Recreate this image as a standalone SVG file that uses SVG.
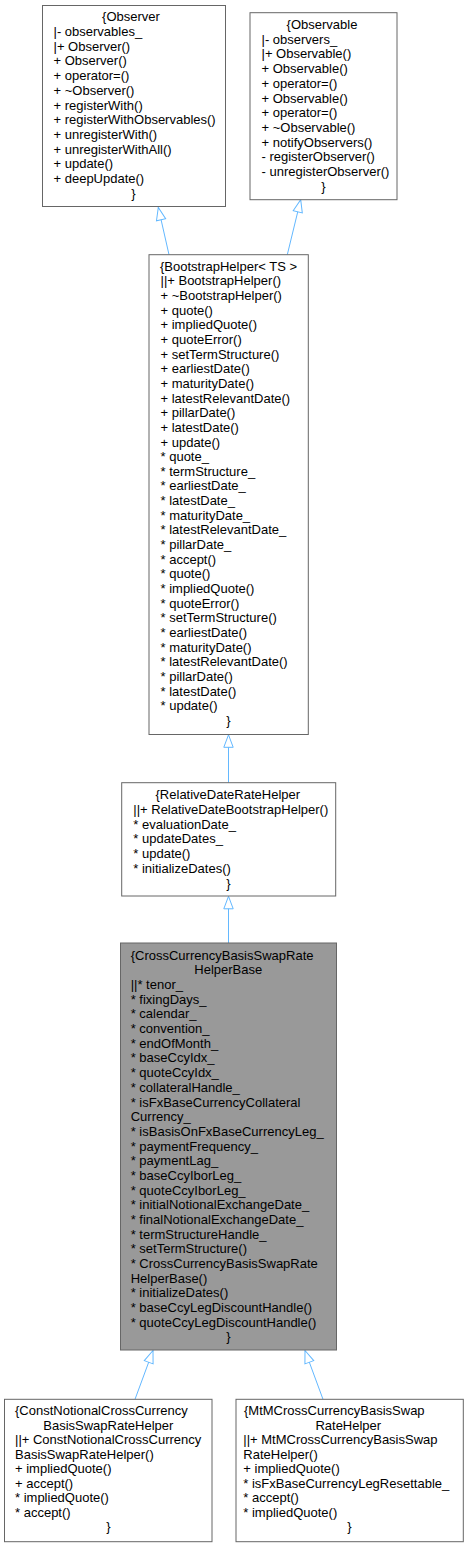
<svg xmlns="http://www.w3.org/2000/svg" width="469" height="1547" viewBox="0 0 469 1547">
<style>
  .box { fill: #ffffff; stroke: #666666; stroke-width: 1; }
  .grey { fill: #999999; stroke: #666666; stroke-width: 1; }
  text { font-family: "Liberation Sans", Arial, sans-serif; font-size: 13px; fill: #000000; }
  .c { text-anchor: middle; }
  .edge { fill: none; stroke: #63b8ff; stroke-width: 1; marker-end: url(#inh); }
</style>
<defs>
  <marker id="inh" markerUnits="userSpaceOnUse" viewBox="0 0 13 10" refX="12.5" refY="5" markerWidth="13" markerHeight="10" orient="auto" overflow="visible">
    <path d="M0,0.3 L12.5,5 L0,9.7 Z" fill="#ffffff" stroke="#63b8ff" stroke-width="1"/>
  </marker>
</defs>
<rect width="469" height="1547" fill="#ffffff"/>

<g id="connectors">
  <path class="edge" d="M169,254.7 L158.3,207.5"/>
  <path class="edge" d="M287.3,254.7 L300.7,199.7"/>
  <path class="edge" d="M228.5,782.7 L228.5,734.8"/>
  <path class="edge" d="M228.5,943 L228.5,896.3"/>
  <path class="edge" d="M135,1399.3 L153,1350.5"/>
  <path class="edge" d="M323,1399.3 L305,1350.5"/>
</g>

<g id="Observer">
  <rect class="box" x="42.5" y="5.5" width="183" height="201"/>
  <text class="c" x="131" y="21.3">{Observer</text>
  <text x="53.5" y="36">|- observables_</text>
  <text x="53.5" y="50.7">|+ Observer()</text>
  <text x="53.5" y="65.4">+ Observer()</text>
  <text x="53.5" y="80.1">+ operator=()</text>
  <text x="53.5" y="94.8">+ ~Observer()</text>
  <text x="53.5" y="109.5">+ registerWith()</text>
  <text x="53.5" y="124.2">+ registerWithObservables()</text>
  <text x="53.5" y="138.9">+ unregisterWith()</text>
  <text x="53.5" y="153.6">+ unregisterWithAll()</text>
  <text x="53.5" y="168.3">+ update()</text>
  <text x="53.5" y="183">+ deepUpdate()</text>
  <text class="c" x="133.3" y="197.7">}</text>
</g>

<g id="Observable">
  <rect class="box" x="250" y="12.7" width="147" height="187"/>
  <text class="c" x="322" y="29">{Observable</text>
  <text x="261.5" y="43.7">|- observers_</text>
  <text x="261.5" y="58.4">|+ Observable()</text>
  <text x="261.5" y="73.1">+ Observable()</text>
  <text x="261.5" y="87.8">+ operator=()</text>
  <text x="261.5" y="102.5">+ Observable()</text>
  <text x="261.5" y="117.2">+ operator=()</text>
  <text x="261.5" y="131.9">+ ~Observable()</text>
  <text x="261.5" y="146.6">+ notifyObservers()</text>
  <text x="261.5" y="161.3">- registerObserver()</text>
  <text x="261.5" y="176">- unregisterObserver()</text>
  <text class="c" x="323.3" y="190.7">}</text>
</g>

<g id="BootstrapHelper">
  <rect class="box" x="149" y="254.7" width="159.3" height="479.8"/>
  <text x="160" y="270.7">{BootstrapHelper&lt; TS &gt;</text>
  <text x="160.5" y="285.35">||+ BootstrapHelper()</text>
  <text x="160.5" y="300">+ ~BootstrapHelper()</text>
  <text x="160.5" y="314.65">+ quote()</text>
  <text x="160.5" y="329.3">+ impliedQuote()</text>
  <text x="160.5" y="343.95">+ quoteError()</text>
  <text x="160.5" y="358.6">+ setTermStructure()</text>
  <text x="160.5" y="373.25">+ earliestDate()</text>
  <text x="160.5" y="387.9">+ maturityDate()</text>
  <text x="160.5" y="402.55">+ latestRelevantDate()</text>
  <text x="160.5" y="417.2">+ pillarDate()</text>
  <text x="160.5" y="431.85">+ latestDate()</text>
  <text x="160.5" y="446.5">+ update()</text>
  <text x="160.5" y="461.15">* quote_</text>
  <text x="160.5" y="475.8">* termStructure_</text>
  <text x="160.5" y="490.45">* earliestDate_</text>
  <text x="160.5" y="505.1">* latestDate_</text>
  <text x="160.5" y="519.75">* maturityDate_</text>
  <text x="160.5" y="534.4">* latestRelevantDate_</text>
  <text x="160.5" y="549.05">* pillarDate_</text>
  <text x="160.5" y="563.7">* accept()</text>
  <text x="160.5" y="578.35">* quote()</text>
  <text x="160.5" y="593">* impliedQuote()</text>
  <text x="160.5" y="607.65">* quoteError()</text>
  <text x="160.5" y="622.3">* setTermStructure()</text>
  <text x="160.5" y="636.95">* earliestDate()</text>
  <text x="160.5" y="651.6">* maturityDate()</text>
  <text x="160.5" y="666.25">* latestRelevantDate()</text>
  <text x="160.5" y="680.9">* pillarDate()</text>
  <text x="160.5" y="695.55">* latestDate()</text>
  <text x="160.5" y="710.2">* update()</text>
  <text class="c" x="228.3" y="724.85">}</text>
</g>

<g id="RelativeDateRateHelper">
  <rect class="box" x="121.7" y="782.7" width="214" height="113.3"/>
  <text class="c" x="227.8" y="799">{RelativeDateRateHelper</text>
  <text x="133.3" y="813.8">||+ RelativeDateBootstrapHelper()</text>
  <text x="133.3" y="828.6">* evaluationDate_</text>
  <text x="133.3" y="843.4">* updateDates_</text>
  <text x="133.3" y="858.2">* update()</text>
  <text x="133.3" y="873">* initializeDates()</text>
  <text class="c" x="228.3" y="887.8">}</text>
</g>

<g id="CrossCurrencyBasisSwapRateHelperBase">
  <rect class="grey" x="120.5" y="943" width="216" height="407"/>
  <text x="130.7" y="959.7">{CrossCurrencyBasisSwapRate</text>
  <text class="c" x="228.3" y="974.38">HelperBase</text>
  <text x="130.7" y="989.06">||* tenor_</text>
  <text x="130.7" y="1003.74">* fixingDays_</text>
  <text x="130.7" y="1018.42">* calendar_</text>
  <text x="130.7" y="1033.1">* convention_</text>
  <text x="130.7" y="1047.78">* endOfMonth_</text>
  <text x="130.7" y="1062.46">* baseCcyIdx_</text>
  <text x="130.7" y="1077.14">* quoteCcyIdx_</text>
  <text x="130.7" y="1091.82">* collateralHandle_</text>
  <text x="130.7" y="1106.5">* isFxBaseCurrencyCollateral</text>
  <text x="130.7" y="1121.18">Currency_</text>
  <text x="130.7" y="1135.86">* isBasisOnFxBaseCurrencyLeg_</text>
  <text x="130.7" y="1150.54">* paymentFrequency_</text>
  <text x="130.7" y="1165.22">* paymentLag_</text>
  <text x="130.7" y="1179.9">* baseCcyIborLeg_</text>
  <text x="130.7" y="1194.58">* quoteCcyIborLeg_</text>
  <text x="130.7" y="1209.26">* initialNotionalExchangeDate_</text>
  <text x="130.7" y="1223.94">* finalNotionalExchangeDate_</text>
  <text x="130.7" y="1238.62">* termStructureHandle_</text>
  <text x="130.7" y="1253.3">* setTermStructure()</text>
  <text x="130.7" y="1267.98">* CrossCurrencyBasisSwapRate</text>
  <text x="130.7" y="1282.66">HelperBase()</text>
  <text x="130.7" y="1297.34">* initializeDates()</text>
  <text x="130.7" y="1312.02">* baseCcyLegDiscountHandle()</text>
  <text x="130.7" y="1326.7">* quoteCcyLegDiscountHandle()</text>
  <text class="c" x="228.3" y="1341.38">}</text>
</g>

<g id="ConstNotionalCrossCurrencyBasisSwapRateHelper">
  <rect class="box" x="4.5" y="1399.3" width="207.5" height="142.4"/>
  <text x="15" y="1415.4">{ConstNotionalCrossCurrency</text>
  <text class="c" x="108.3" y="1429.9">BasisSwapRateHelper</text>
  <text x="15" y="1444.4">||+ ConstNotionalCrossCurrency</text>
  <text x="15" y="1458.9">BasisSwapRateHelper()</text>
  <text x="15" y="1473.4">+ impliedQuote()</text>
  <text x="15" y="1487.9">+ accept()</text>
  <text x="15" y="1502.4">* impliedQuote()</text>
  <text x="15" y="1516.9">* accept()</text>
  <text class="c" x="108.3" y="1531.4">}</text>
</g>

<g id="MtMCrossCurrencyBasisSwapRateHelper">
  <rect class="box" x="236" y="1399.3" width="227.3" height="142.4"/>
  <text x="244" y="1415.4">{MtMCrossCurrencyBasisSwap</text>
  <text class="c" x="348.3" y="1429.9">RateHelper</text>
  <text x="243.3" y="1444.4">||+ MtMCrossCurrencyBasisSwap</text>
  <text x="243.3" y="1458.9">RateHelper()</text>
  <text x="243.3" y="1473.4">+ impliedQuote()</text>
  <text x="243.3" y="1487.9">* isFxBaseCurrencyLegResettable_</text>
  <text x="243.3" y="1502.4">* accept()</text>
  <text x="243.3" y="1516.9">* impliedQuote()</text>
  <text class="c" x="349.3" y="1531.4">}</text>
</g>
</svg>
